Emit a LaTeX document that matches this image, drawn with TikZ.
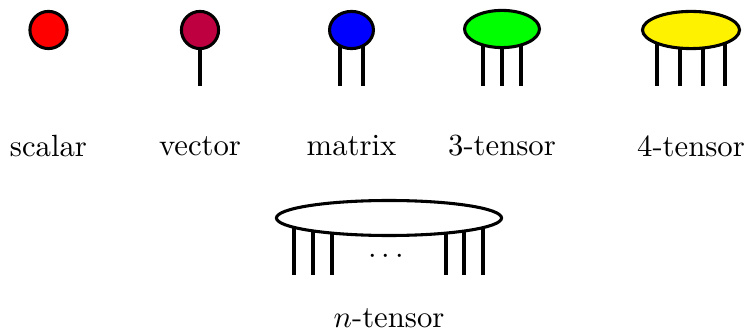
\documentclass[tikz,border=0pt]{standalone}
\usetikzlibrary{shapes.geometric,calc,backgrounds}
\begin{document}
\begin{tikzpicture}[x=0.01145cm,y=-0.01145cm,
  blob/.style={draw,line width=1pt,ellipse,inner sep=0pt,minimum height=12.1pt},
  leg/.style={line width=1pt}]
  \useasboundingbox (0,0) rectangle (748,333);
  % the tensors
  \node[blob,fill=red,minimum width=12.1pt] (sc) at (48.5,30) {};
  \node[blob,fill=purple,minimum width=12.1pt] (ve) at (200,30) {};
  \node[blob,fill=blue,minimum width=14.3pt] (ma) at (351.5,30) {};
  \node[blob,fill=green,minimum width=24.4pt] (t3) at (502,29) {};
  \node[blob,fill=yellow,minimum width=31.6pt] (t4) at (691,30) {};
  \node[blob,fill=white,minimum width=73.3pt,minimum height=11.4pt] (tn) at (389,218) {};
  % legs
  \begin{pgfonlayer}{background}
    \draw[leg] (ve.center) -- ++(0,56);
    \foreach \dx in {-11.5,11.5}
      \draw[leg] ($(ma.center)+(\dx,0)$) -- ++(0,56);
    \foreach \dx in {-19,0,19}
      \draw[leg] ($(t3.center)+(\dx,0)$) -- ++(0,57);
    \foreach \dx in {-34,-11,12,34}
      \draw[leg] ($(t4.center)+(\dx,0)$) -- ++(0,56);
    \foreach \dx in {-95,-76,-57,57,75,94}
      \draw[leg] ($(tn.center)+(\dx,0)$) -- ++(0,57);
  \end{pgfonlayer}
  \node (dots) at (386,257) {$\cdots$};
  % labels
  \node (lsc) at (48.5,146) {scalar};
  \node (lve) at (200,146) {vector};
  \node (lma) at (351.5,146) {matrix};
  \node (lt3) at (502,146) {3-tensor};
  \node (lt4) at (691,146) {4-tensor};
  \node (ltn) at (389,318) {$n$-tensor};
\end{tikzpicture}
\end{document}
